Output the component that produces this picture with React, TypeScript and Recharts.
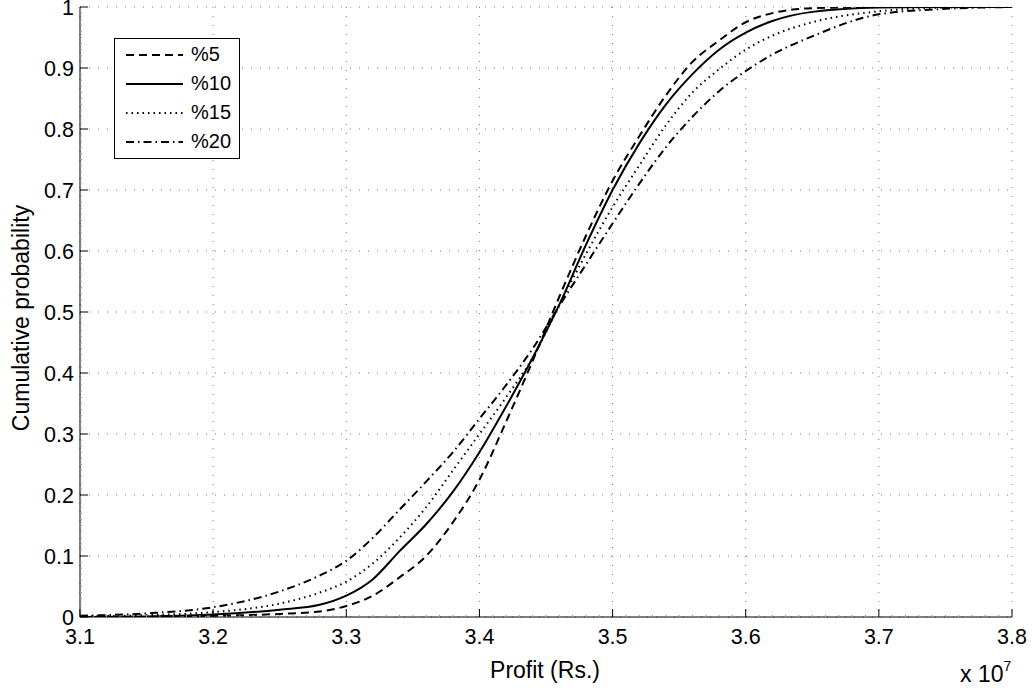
import React from "react";
import {
  LineChart,
  Line,
  XAxis,
  YAxis,
  CartesianGrid,
  Legend,
  Label,
} from "recharts";

// profit values, in units of 10^7 Rs.
const profit = [
  3.1, 3.15, 3.2, 3.25, 3.28, 3.3, 3.32, 3.34, 3.36, 3.38, 3.4, 3.42, 3.44,
  3.46, 3.48, 3.5, 3.52, 3.54, 3.56, 3.58, 3.6, 3.62, 3.65, 3.7, 3.75, 3.8,
];

const cdf5 = [
  0, 0, 0.002, 0.005, 0.009, 0.018, 0.035, 0.065, 0.1, 0.155, 0.225, 0.32,
  0.42, 0.525, 0.625, 0.715, 0.788, 0.855, 0.91, 0.945, 0.975, 0.99, 0.998, 1,
  1, 1,
];
const cdf10 = [
  0, 0.001, 0.004, 0.012, 0.02, 0.035, 0.062, 0.108, 0.152, 0.205, 0.27,
  0.345, 0.425, 0.512, 0.61, 0.7, 0.776, 0.84, 0.89, 0.93, 0.958, 0.977, 0.992,
  0.999, 1, 1,
];
const cdf15 = [
  0.001, 0.003, 0.008, 0.022, 0.04, 0.058, 0.088, 0.13, 0.18, 0.24, 0.3, 0.36,
  0.425, 0.512, 0.595, 0.672, 0.74, 0.806, 0.86, 0.898, 0.93, 0.953, 0.975,
  0.993, 0.999, 1,
];
const cdf20 = [
  0.002, 0.006, 0.016, 0.042, 0.068, 0.092, 0.13, 0.176, 0.222, 0.27, 0.325,
  0.38, 0.44, 0.51, 0.578, 0.645, 0.71, 0.77, 0.82, 0.862, 0.895, 0.922,
  0.952, 0.988, 0.997, 1,
];

const xTicks = [3.1, 3.2, 3.3, 3.4, 3.5, 3.6, 3.7, 3.8];
const yTicks = [0, 0.1, 0.2, 0.3, 0.4, 0.5, 0.6, 0.7, 0.8, 0.9, 1];

// minor ticks every 0.01
const xMinor: number[] = [];
for (let i = 0; i <= 70; i++) xMinor.push(+(3.1 + i * 0.01).toFixed(2));
const yMinor: number[] = [];
for (let i = 0; i <= 100; i++) yMinor.push(+(i * 0.01).toFixed(2));

const data = profit.map((x, i) => ({
  x,
  p5: cdf5[i],
  p10: cdf10[i],
  p15: cdf15[i],
  p20: cdf20[i],
}));

const FONT = "'Liberation Sans', Arial, sans-serif";
const TICK_FS = 21.5;
const LABEL_FS = 23;

const series = [
  { key: "p5", name: "%5", dash: "8 5" },
  { key: "p10", name: "%10", dash: undefined },
  { key: "p15", name: "%15", dash: "1.5 4" },
  { key: "p20", name: "%20", dash: "8 4 1.5 4" },
];

const isMajor = (v: number) => Math.abs(v * 10 - Math.round(v * 10)) < 1e-6;

function XTick({ x, y, payload }: any) {
  const major = isMajor(payload.value);
  return (
    <g>
      <line
        x1={x}
        y1={y}
        x2={x}
        y2={y - (major ? 8 : 2)}
        stroke={major ? "#000" : "#999"}
      />
      {major && (
        <text
          x={x}
          y={y + 27}
          textAnchor="middle"
          fontSize={TICK_FS}
          fontFamily={FONT}
          fill="#000"
        >
          {String(payload.value)}
        </text>
      )}
    </g>
  );
}

function YTick({ x, y, payload }: any) {
  const major = isMajor(payload.value);
  return (
    <g>
      <line
        x1={x}
        y1={y}
        x2={x + (major ? 8 : 2)}
        y2={y}
        stroke={major ? "#000" : "#999"}
      />
      {major && (
        <text
          x={x - 6}
          y={y}
          dy="0.36em"
          textAnchor="end"
          fontSize={TICK_FS}
          fontFamily={FONT}
          fill="#000"
        >
          {String(payload.value)}
        </text>
      )}
    </g>
  );
}

function LegendBox() {
  return (
    <div
      style={{
        border: "1px solid #000",
        background: "#fff",
        width: 124,
        padding: "1px 0 2px 0",
        fontFamily: FONT,
        fontSize: 20,
      }}
    >
      {series.map((s) => (
        <div
          key={s.key}
          style={{ display: "flex", alignItems: "center", height: 29 }}
        >
          <svg width={70} height={10} style={{ marginLeft: 10 }}>
            <line
              x1={1}
              y1={5}
              x2={58}
              y2={5}
              stroke="#000"
              strokeWidth={2}
              strokeDasharray={s.dash}
            />
          </svg>
          <span style={{ marginLeft: -4 }}>{s.name}</span>
        </div>
      ))}
    </div>
  );
}

export default function App() {
  return (
    <div style={{ position: "absolute", left: 0, top: 0, background: "#fff" }}>
      <LineChart
        width={1032}
        height={688}
        data={data}
        margin={{ top: 7, right: 20, bottom: 0, left: 0 }}
      >
        <CartesianGrid
          stroke="#777"
          strokeDasharray="1 8"
          horizontalValues={yTicks}
          verticalValues={xTicks}
        />
        <XAxis
          type="number"
          dataKey="x"
          domain={[3.1, 3.8]}
          ticks={xMinor}
          interval={0}
          allowDataOverflow
          height={71}
          tickLine={false}
          tickSize={0}
          tickMargin={0}
          axisLine={{ stroke: "#000" }}
          tick={<XTick />}
        >
          <Label
            content={({ viewBox }: any) => (
              <text
                x={viewBox.x + viewBox.width / 2 - 1}
                y={viewBox.y + 61}
                textAnchor="middle"
                fontSize={LABEL_FS}
                fontFamily={FONT}
                fill="#000"
              >
                Profit (Rs.)
              </text>
            )}
          />
          <Label
            content={({ viewBox }: any) => (
              <text
                x={viewBox.x + viewBox.width - 52}
                y={viewBox.y + 65}
                fontSize={LABEL_FS}
                fontFamily={FONT}
                fill="#000"
              >
                x 10
                <tspan dy={-11} fontSize={14}>
                  7
                </tspan>
              </text>
            )}
          />
        </XAxis>
        <YAxis
          type="number"
          domain={[0, 1]}
          ticks={yMinor}
          interval={0}
          allowDataOverflow
          width={80}
          tickLine={false}
          tickSize={0}
          tickMargin={0}
          axisLine={{ stroke: "#000" }}
          tick={<YTick />}
        >
          <Label
            content={({ viewBox }: any) => (
              <text
                x={29}
                y={viewBox.y + viewBox.height / 2 + 6}
                transform={`rotate(-90 29 ${viewBox.y + viewBox.height / 2 + 6})`}
                textAnchor="middle"
                fontSize={LABEL_FS}
                fontFamily={FONT}
                fill="#000"
              >
                Cumulative probability
              </text>
            )}
          />
        </YAxis>
        <Legend
          layout="horizontal"
          verticalAlign="middle"
          align="center"
          wrapperStyle={{ left: 114, top: 38, width: "auto" }}
          content={() => <LegendBox />}
        />
        {series.map((s) => (
          <Line
            key={s.key}
            type="monotone"
            dataKey={s.key}
            name={s.name}
            stroke="#000"
            strokeWidth={2}
            strokeDasharray={s.dash}
            dot={false}
            isAnimationActive={false}
          />
        ))}
      </LineChart>
    </div>
  );
}
